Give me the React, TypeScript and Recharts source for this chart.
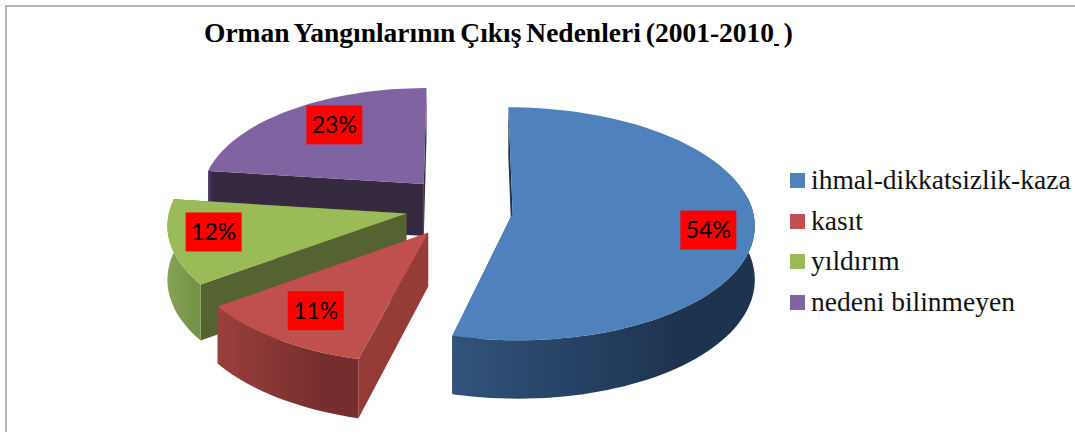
import { Legend, Pie, PieChart } from "recharts";

const categories = ["ihmal-dikkatsizlik-kaza", "kasıt", "yıldırım", "nedeni bilinmeyen"];
const shares = [54, 11, 12, 23];
const topColors = ["#4f81bd", "#c0504d", "#9bbb59", "#8064a2"];
const cutColors = ["#1f334e", "#953b38", "#556330", "#362a40"];
const wallLeft = ["#31537b", "#9a403d", "#86a255", "#4c3b61"];
const wallRight = ["#1e3350", "#762d2d", "#769448", "#3c2f4d"];

// drawn back to front, so the pie runs anticlockwise from 12 o'clock starting with the last slice
const drawOrder = categories
  .map((name, i) => ({ name, value: shares[i], fill: topColors[i], idx: i }))
  .reverse();

const TILT = 0.479; // vertical squash of the disc
const PERSPECTIVE = 0.09;
const EXPLODE = 0.225;
const DEPTH = 53;
const LABEL_AT = 0.81;
// small per slice fixes, the source chart's perspective is not quite a plain projection
const sliceScale = [1, 1, 0.985, 0.93];
const sliceShiftY = [3, 4, 0, -4];
const labelShiftX = [0, 8, -2, 21];
const labelShiftY = [5, -7, -5, 1];
const FONT_SERIF = "'Liberation Serif', serif";

const rad = (d: number) => (d * Math.PI) / 180;

function project(cx: number, cy: number, r: number, X: number, Z: number, h = 0) {
  const f = 1 / (1 + PERSPECTIVE * Z);
  return [cx + X * r * f, cy - Z * r * TILT * f + h * DEPTH * f];
}

const pts = (list: number[][]) => list.map((p) => `${p[0].toFixed(1)},${p[1].toFixed(1)}`).join(" ");

function Slice3D(props: any) {
  const { cx, cy: cy0, outerRadius: r, startAngle, endAngle, payload } = props;
  const idx = payload.idx;
  const cy = cy0 + sliceShiftY[idx];
  const scale = sliceScale[idx];
  const t0 = 90 - endAngle;
  const t1 = 90 - startAngle;
  const mid = rad((t0 + t1) / 2);
  const X0 = EXPLODE * Math.sin(mid);
  const Z0 = EXPLODE * Math.cos(mid);
  const rim: { X: number; Z: number; t: number }[] = [];
  for (let t = t0; t < t1; t += 2) {
    rim.push({ X: X0 + scale * Math.sin(rad(t)), Z: Z0 + scale * Math.cos(rad(t)), t });
  }
  rim.push({ X: X0 + scale * Math.sin(rad(t1)), Z: Z0 + scale * Math.cos(rad(t1)), t: t1 });

  const wall = (a: { X: number; Z: number }, b: { X: number; Z: number }) => [
    project(cx, cy, r, a.X, a.Z),
    project(cx, cy, r, b.X, b.Z),
    project(cx, cy, r, b.X, b.Z, 1),
    project(cx, cy, r, a.X, a.Z, 1),
  ];

  const apex = { X: X0, Z: Z0 };
  const first = rim[0];
  const last = rim[rim.length - 1];
  // far cut face first, then the near one
  const cuts = [first, last].sort((a, b) => b.Z - a.Z).map((p) => wall(apex, p));

  // only the part of the rim that faces the viewer
  const front = rim.filter((p) => {
    const t = ((p.t % 360) + 360) % 360;
    return t > 80 && t < 282;
  });
  const frontTop = front.map((p) => project(cx, cy, r, p.X, p.Z));
  const frontBottom = front.map((p) => project(cx, cy, r, p.X, p.Z, 1)).reverse();
  const xs = frontTop.map((p) => p[0]);
  const minX = Math.min(...xs);
  const maxX = Math.max(...xs);
  const gradId = `wall-${idx}`;

  const top = [project(cx, cy, r, X0, Z0), ...rim.map((p) => project(cx, cy, r, p.X, p.Z))];

  return (
    <g>
      <defs>
        <linearGradient id={gradId} gradientUnits="userSpaceOnUse" x1={minX} x2={minX + (maxX - minX) * 0.75} y1={0} y2={0}>
          <stop offset="0%" stopColor={wallLeft[idx]} />
          <stop offset="100%" stopColor={wallRight[idx]} />
        </linearGradient>
      </defs>
      {cuts.map((c, i) => (
        <polygon key={i} points={pts(c)} fill={cutColors[idx]} />
      ))}
      {front.length > 1 && <polygon points={pts([...frontTop, ...frontBottom])} fill={`url(#${gradId})`} />}
      <polygon points={pts(top)} fill={topColors[idx]} />
    </g>
  );
}

function percentLabel(props: any) {
  const { cx, cy, outerRadius: r, midAngle, value, payload } = props;
  const idx = payload.idx;
  const m = rad(90 - midAngle);
  const reach = EXPLODE + LABEL_AT * sliceScale[idx];
  const [px, py] = project(cx, cy + sliceShiftY[idx], r, reach * Math.sin(m), reach * Math.cos(m));
  const lx = px + labelShiftX[idx];
  const ly = py + labelShiftY[idx];
  return (
    <g>
      <rect x={lx - 28} y={ly - 19.5} width={56} height={39} fill="#ff0000" />
      <text x={lx} y={ly + 8} textAnchor="middle" fontFamily="Lato, 'Open Sans', sans-serif" fontSize={23} fill="#000">
        {value}%
      </text>
    </g>
  );
}

function LegendList({ payload }: any) {
  const rows = categories.map((name) => (payload ?? []).find((row: any) => row.value === name)).filter(Boolean);
  return (
    <div style={{ fontFamily: FONT_SERIF, fontSize: 27.5, color: "#111", lineHeight: "40.7px" }}>
      {rows.map((row: any) => (
        <div key={row.value} style={{ display: "flex", alignItems: "center", whiteSpace: "nowrap" }}>
          <span style={{ width: 15, height: 15, background: row.color, marginRight: 6, flex: "none" }} />
          <span>{row.value}</span>
        </div>
      ))}
    </div>
  );
}

export default function App() {
  return (
    <div style={{ position: "fixed", left: 0, top: 0, width: 1075, height: 432, background: "#fff", overflow: "hidden" }}>
      <div
        style={{
          position: "absolute",
          left: 5,
          top: 5,
          width: 1080,
          height: 440,
          border: "2px solid #b4b4b4",
        }}
      />
      <div
        style={{
          position: "absolute",
          left: 204,
          top: 17,
          fontFamily: FONT_SERIF,
          fontWeight: 700,
          fontSize: 27.5,
          whiteSpace: "pre",
          color: "#000",
          wordSpacing: -2,
        }}
      >
        Orman Yangınlarının Çıkış Nedenleri (2001-2010
        <span style={{ textDecoration: "underline" }}> </span> )
      </div>
      <div style={{ position: "absolute", left: 0, top: 0 }}>
        <PieChart width={1075} height={432} margin={{ top: 0, right: 0, bottom: 0, left: 0 }}>
          <Pie
            data={drawOrder}
            dataKey="value"
            nameKey="name"
            cx={459}
            cy={207}
            outerRadius={240}
            startAngle={90}
            endAngle={450}
            stroke="none"
            shape={Slice3D}
            label={percentLabel}
            labelLine={false}
            isAnimationActive={false}
          />
          <Legend
            layout="vertical"
            align="right"
            verticalAlign="top"
            content={LegendList}
            wrapperStyle={{ left: 790, top: 160, width: 285 }}
          />
        </PieChart>
      </div>
    </div>
  );
}
